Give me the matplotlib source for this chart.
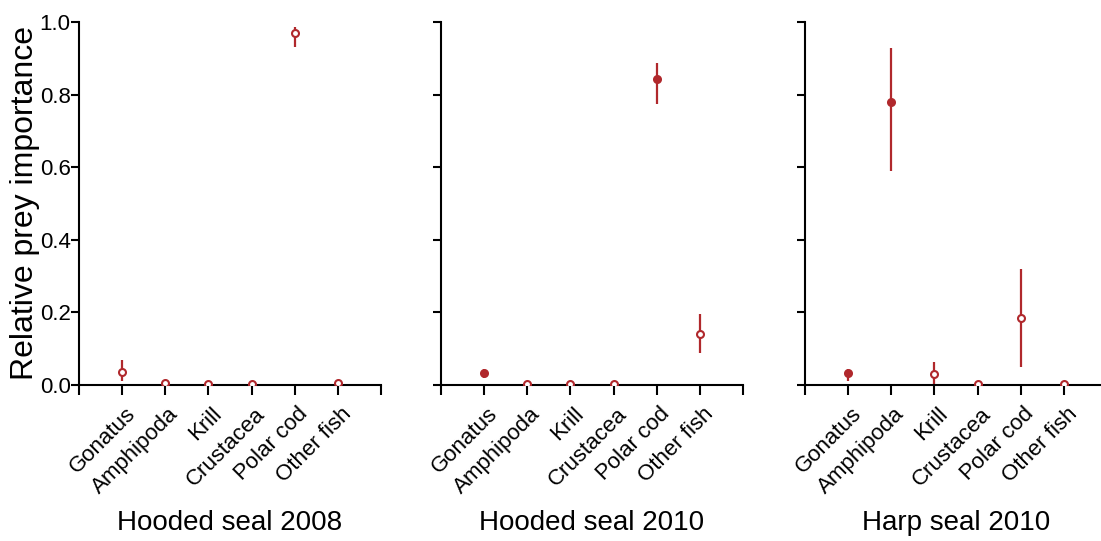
import numpy as np
import matplotlib
matplotlib.use("Agg")
import matplotlib.pyplot as plt
from matplotlib.transforms import ScaledTranslation

plt.rcParams['font.family'] = ['Liberation Sans Narrow', 'Liberation Sans', 'DejaVu Sans']

prey = ["Gonatus", "Amphipoda", "Krill", "Crustacea", "Polar cod", "Other fish"]
titles = ["Hooded seal 2008", "Hooded seal 2010", "Harp seal 2010"]

# mean, lower, upper for each prey group
hs08_mean = [0.037, 0.005, 0.004, 0.004, 0.969, 0.005]
hs08_low = [0.012, 0.005, 0.004, 0.004, 0.930, 0.005]
hs08_high = [0.068, 0.005, 0.004, 0.004, 0.985, 0.005]
hs08_filled = [False, False, False, False, False, False]

hs10_mean = [0.032, 0.004, 0.003, 0.003, 0.842, 0.140]
hs10_low = [0.018, 0.004, 0.003, 0.003, 0.773, 0.087]
hs10_high = [0.043, 0.004, 0.003, 0.003, 0.886, 0.195]
hs10_filled = [True, False, False, False, True, False]

hp10_mean = [0.032, 0.779, 0.029, 0.004, 0.185, 0.004]
hp10_low = [0.012, 0.590, 0.000, 0.004, 0.050, 0.004]
hp10_high = [0.043, 0.929, 0.062, 0.004, 0.320, 0.004]
hp10_filled = [True, True, False, False, False, False]

col = '#B0282C'

fig = plt.figure(figsize=(11.01, 5.41), dpi=100)
lefts = [79 / 1101, 441 / 1101, 805 / 1101]
w = 302 / 1101
b = 1 - 385 / 541
h = (385 - 22) / 541

panels = [(hs08_mean, hs08_low, hs08_high, hs08_filled),
          (hs10_mean, hs10_low, hs10_high, hs10_filled),
          (hp10_mean, hp10_low, hp10_high, hp10_filled)]

shift = ScaledTranslation(10 / 100, -26 / 100, fig.dpi_scale_trans)

for i, (m, lo, hi, fl) in enumerate(panels):
    ax = fig.add_axes([lefts[i], b, w, h])
    x = np.arange(1, len(prey) + 1)
    m = np.array(m); lo = np.array(lo); hi = np.array(hi)
    ax.vlines(x, lo, hi, color=col, lw=1.6, zorder=2)
    for xi, yi, f in zip(x, m, fl):
        ax.plot(xi, yi, 'o', ms=5, mec=col, mew=1.5,
                mfc=col if f else 'white', zorder=3)
    ax.set_xlim(0, 7)
    ax.set_ylim(0, 1.0)
    ax.set_xticks(np.arange(0, 8))
    ax.set_xticklabels([])
    for xi, name in zip(x, prey):
        ax.text(xi, 0, name, transform=ax.get_xaxis_transform() + shift,
                rotation=45, ha='right', va='center', rotation_mode='anchor',
                fontsize=16)
    ax.set_yticks([0, 0.2, 0.4, 0.6, 0.8, 1.0])
    for s in ['top', 'right']:
        ax.spines[s].set_visible(False)
    for s in ['left', 'bottom']:
        ax.spines[s].set_linewidth(1.5)
    ax.tick_params(axis='x', direction='out', length=7, width=1.5)
    ax.tick_params(axis='y', direction='out', length=6, width=1.5, pad=0)
    if i == 0:
        ax.set_yticklabels(["0.0", "0.2", "0.4", "0.6", "0.8", "1.0"], fontsize=16)
        ax.set_ylabel("Relative prey importance", fontsize=23)
        ax.yaxis.set_label_coords(-0.13, 0.5)
    else:
        ax.set_yticklabels([])
    ax.text(0.5, -0.38, titles[i], transform=ax.transAxes, ha='center',
            va='center', fontsize=20)
    ax.patch.set_alpha(0)

fig.savefig("out.png", dpi=100)
